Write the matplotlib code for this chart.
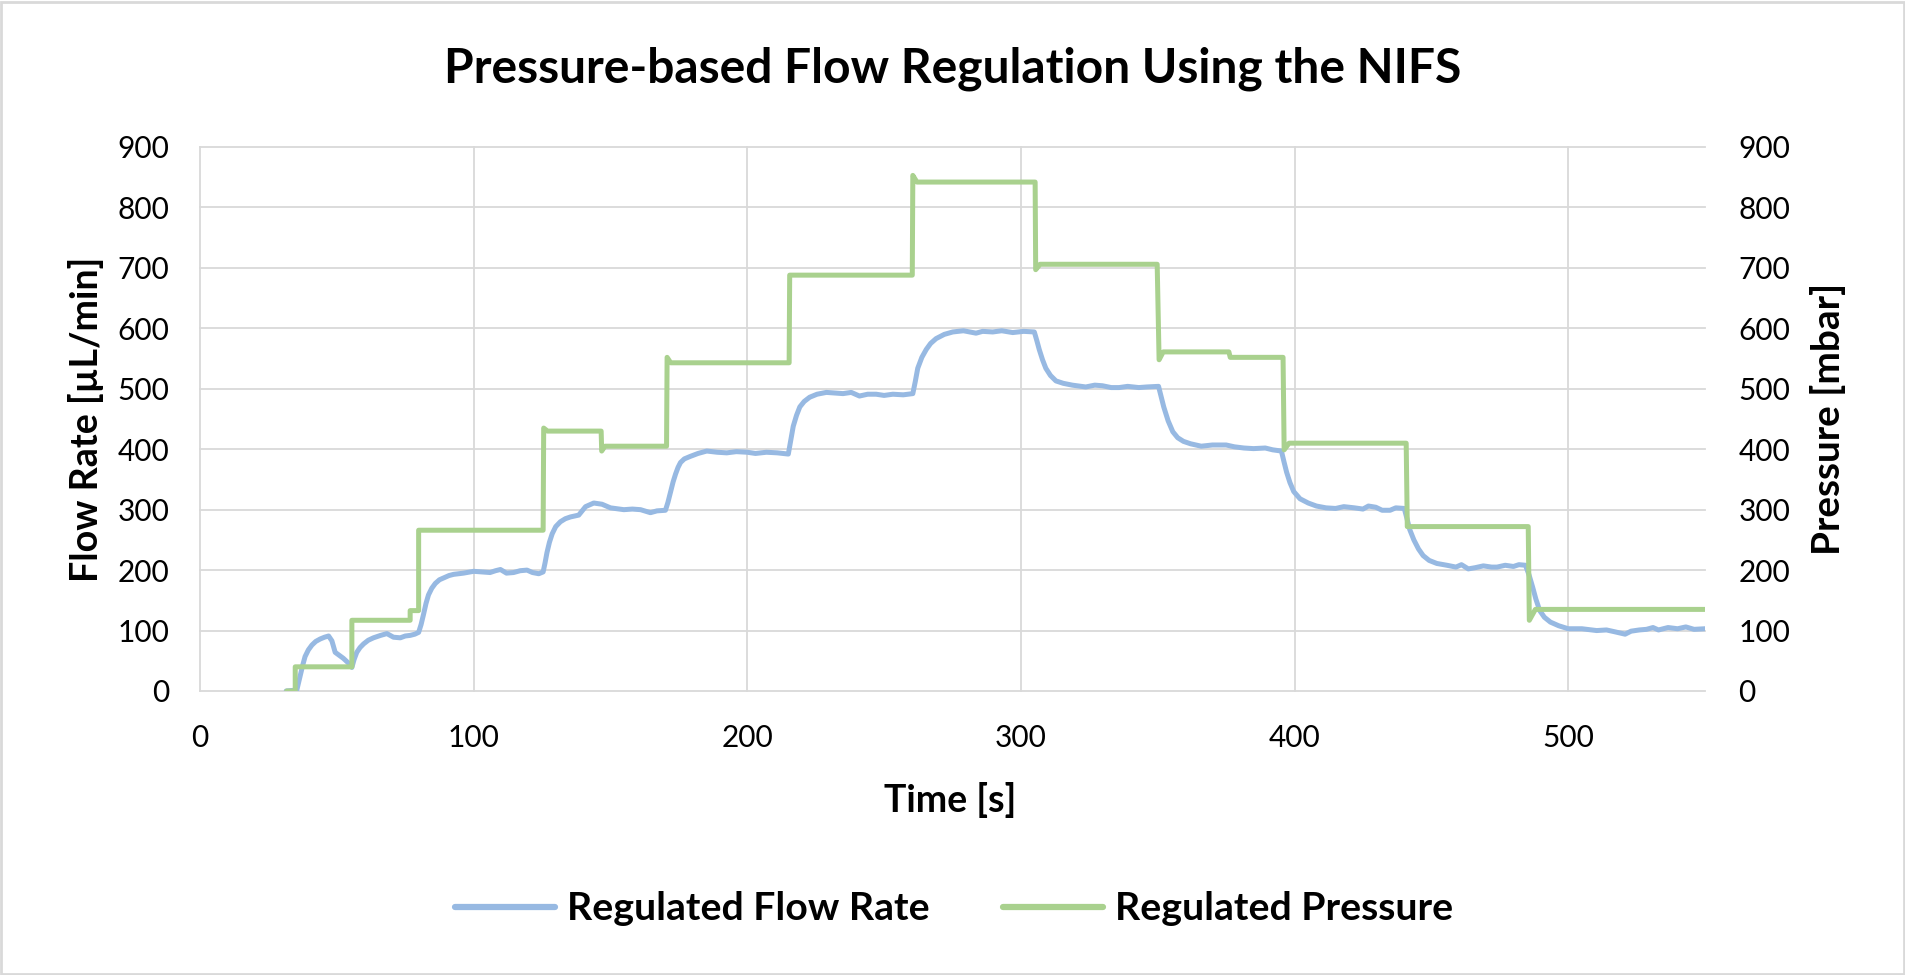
import matplotlib
matplotlib.use("Agg")
import numpy as np
import matplotlib.pyplot as plt
from matplotlib.patches import Rectangle

# ---------------- data ----------------
flow_time = [31.5, 34.0, 35.4, 36.6, 37.5, 38.4, 39.6, 40.9, 42.3, 43.9, 45.5, 47.0, 48.2, 49.4, 50.6, 52.4, 54.3, 55.5,
             56.3, 57.3, 58.5, 59.8, 61.5, 63.4, 66.0, 68.3, 70.7, 73.2, 75.0, 76.8, 78.5, 79.9,
             80.8, 81.7, 82.6, 83.5, 84.7, 86.0, 87.5, 89.0, 91.0, 92.7,
             96.3, 100, 103, 106, 108, 109.8, 112, 114.6, 117, 119.5, 121.5, 123.8, 125.4,
             126.1, 126.8, 127.7, 128.7, 130.0, 131.7, 133.5, 135.4, 138.4, 140.9, 143.9, 146.9,
             150, 154.9, 158, 161, 164.6, 167, 170.1,
             171.0, 172.0, 172.9, 173.8, 174.7, 175.6, 177.0, 179.1, 182.0,
             185.2, 189, 192.5, 196, 200, 203, 207, 211, 215,
             215.9, 216.8, 218.0, 219.2, 220.8, 222.8, 225.5,
             228.9, 232, 235, 238, 241, 244, 247.1, 250, 253.2, 257, 260.5,
             261.4, 262.3, 263.8, 265.4, 267.0, 269.0, 272.0,
             275.1, 279, 283.6, 286, 289.7, 293, 297, 301, 304.9,
             305.8, 306.7, 307.9, 309.1, 310.8, 312.8, 315.5,
             318.8, 323.7, 327, 329.8, 333, 335.9, 339, 343.1, 346, 350.3,
             351.2, 352.2, 353.8, 355.5, 357.3, 359.4, 362.0,
             365.9, 370, 375, 378, 381.5, 385, 389.3, 392, 395.2,
             396.1, 397.1, 398.3, 399.7, 402.0, 405.0, 408.0,
             411.5, 415, 418, 421.9, 425, 427, 429.7, 432, 434.9, 437, 440.1,
             441.1, 442.1, 443.6, 445.3, 447.0, 449.2, 452.0,
             455.7, 459, 461, 463.5, 466, 469, 472, 474, 477, 480, 482, 484.4,
             485.7, 487.0, 488.2, 489.6, 491.3, 493.5, 496.5,
             500, 505, 510.4, 514, 517, 520.8, 523, 526, 528.6, 531, 533, 536.5, 540, 543, 546, 550]
flow_rate = [0, 1, 2, 25, 42, 57, 68, 76, 82, 86, 89, 91, 83, 64, 60, 54, 46, 39,
             52, 64, 72, 78, 84, 88, 92, 95, 89, 88, 91, 92, 94, 97,
             110, 127, 145, 159, 170, 178, 184, 187, 191, 193,
             195, 198, 197, 196, 199, 201, 195, 196, 199, 200, 196, 194, 197,
             212, 229, 246, 260, 272, 280, 285, 288, 291, 305, 311, 309,
             303, 300, 301, 300, 295, 298, 299,
             312, 330, 346, 359, 370, 378, 384, 388, 393,
             397, 395, 394, 396, 395, 393, 395, 394, 392,
             415, 438, 456, 470, 479, 486, 491,
             494, 493, 492, 494, 488, 491, 491, 489, 491, 490, 492,
             512, 534, 552, 565, 575, 583, 590,
             594, 596, 592, 595, 594, 596, 593, 595, 594,
             580, 565, 548, 534, 522, 513, 509,
             506, 503, 506, 505, 502, 502, 504, 502, 503, 504,
             488, 470, 447, 429, 419, 413, 409,
             405, 407, 407, 404, 402, 401, 402, 399, 397,
             380, 362, 345, 330, 318, 311, 306,
             303, 302, 305, 303, 301, 306, 304, 299, 299, 303, 302,
             285, 267, 250, 235, 224, 216, 211,
             208, 205, 209, 202, 204, 207, 205, 205, 208, 206, 209, 208,
             192, 172, 152, 133, 122, 114, 108,
             103, 103, 100, 101, 98, 94, 99, 101, 102, 105, 101, 105, 103, 106, 102, 103]

press_time = [31.7, 34.8, 34.8, 55.5, 55.5, 76.8, 76.8, 79.9, 79.9, 125.4,
              125.6, 127, 146.6, 146.8, 148, 170.5, 170.7, 172, 215.3, 215.5,
              260.3, 260.5, 262, 305.2, 305.4, 307, 349.8, 350.5, 352, 376,
              376.5, 395.8, 396.2, 398, 440.8, 441.2, 485.4, 485.8, 488, 550]
pressure = [0, 0, 40, 40, 117, 117, 133, 133, 266, 266,
            435, 430, 430, 397, 405, 405, 552, 543, 543, 688,
            688, 853, 842, 842, 697, 706, 706, 548, 561, 561,
            552, 552, 399, 410, 410, 272, 272, 117, 135, 135]

x_ticks = [0, 100, 200, 300, 400, 500]
y_ticks = [0, 100, 200, 300, 400, 500, 600, 700, 800, 900]

title = "Pressure-based Flow Regulation Using the NIFS"
x_label = "Time [s]"
y_label = "Flow Rate [µL/min]"
y2_label = "Pressure [mbar]"
series_names = ["Regulated Flow Rate", "Regulated Pressure"]

# ---------------- styling ----------------
plt.rcParams['font.family'] = ['Lato', 'DejaVu Sans']
BLUE = "#97B9E2"
GREEN = "#A9D18E"
GRID = "#D9D9D9"

W, H = 1906, 975
fig = plt.figure(figsize=(W / 100, H / 100), dpi=100)
L, R, T, B = 200, 1705, 147, 691
ax = fig.add_axes([L / W, 1 - B / H, (R - L) / W, (B - T) / H])
ax2 = ax.twinx()

l1, = ax.plot(np.array(flow_time), np.array(flow_rate), color=BLUE, lw=3.6,
              solid_joinstyle='round', solid_capstyle='round', zorder=3)
l2, = ax2.plot(np.array(press_time), np.array(pressure), color=GREEN, lw=3.6,
               solid_joinstyle='round', solid_capstyle='round', zorder=3)

for a in (ax, ax2):
    a.set_xlim(0, 550)
    a.set_ylim(0, 900)
    a.set_yticks(y_ticks)
    for s in a.spines.values():
        s.set_visible(False)
ax.set_xticks(x_ticks)
ax.grid(True, color=GRID, lw=1.3)
ax.set_axisbelow(True)
for gl in ax.get_xgridlines() + ax.get_ygridlines():
    gl.set_clip_on(False)

renderer = fig.canvas.get_renderer()


def fit(t, target, vertical=False):
    bb = t.get_window_extent(renderer)
    w = bb.height if vertical else bb.width
    t.set_fontsize(t.get_fontsize() * target / w)


# tick label size fitted to the reference "900" width (~52 px)
tmp = fig.text(0, 0, "900", fontsize=20)
fit(tmp, 52)
tick_fs = tmp.get_fontsize()
tmp.remove()

ax.tick_params(axis='x', length=0, labelsize=tick_fs, pad=24, colors='black')
ax.tick_params(axis='y', length=0, labelsize=tick_fs, pad=22, colors='black')
ax2.tick_params(axis='y', length=0, labelsize=tick_fs, pad=24, colors='black')

t_title = fig.text(953 / W, 1 - 69 / H, title, ha='center', va='center',
                   fontsize=28, fontweight='bold')
fit(t_title, 1020)
t_x = fig.text(950 / W, 1 - 800 / H, x_label, ha='center', va='center',
               fontsize=21, fontweight='bold')
fit(t_x, 132)
t_y = fig.text(86 / W, 1 - 419 / H, y_label, ha='center', va='center',
               rotation=90, fontsize=21, fontweight='bold')
fit(t_y, 326, vertical=True)
t_y2 = fig.text(1828 / W, 1 - 419 / H, y2_label, ha='center', va='center',
                rotation=90, fontsize=21, fontweight='bold')
fit(t_y2, 272, vertical=True)

# legend font size fitted to the reference text width
tmp = fig.text(0, 0, series_names[0], fontsize=21, fontweight='bold')
fit(tmp, 362)
leg_fs = tmp.get_fontsize()
tmp.remove()
em = leg_fs * 100 / 72.0  # px per em

leg = fig.legend([l1, l2], series_names, loc='center', bbox_to_anchor=(954 / W, 1 - 909 / H),
                 ncol=2, frameon=False, prop={'weight': 'bold', 'size': leg_fs},
                 handlelength=100 / em, handletextpad=12 / em, columnspacing=73 / em)
for h in leg.legend_handles:
    h.set_linewidth(4.5)

fig.patches.append(Rectangle((1 / W, 1 / H), 1 - 3 / W, 1 - 3 / H, transform=fig.transFigure,
                             fill=False, edgecolor=GRID, lw=2.0))

fig.savefig("out.png", dpi=100, facecolor='white')
